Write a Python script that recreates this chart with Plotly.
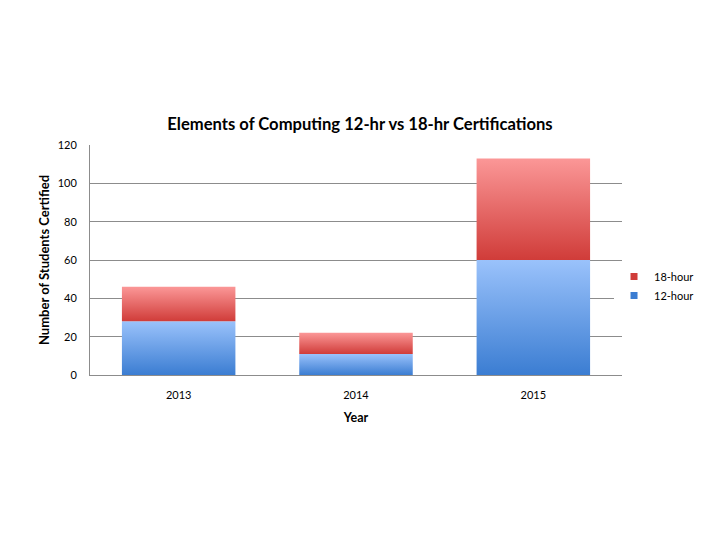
import plotly.graph_objects as go

years = ["2013", "2014", "2015"]
hours12 = [28, 11, 60]
hours18 = [18, 11, 53]

series = [
    ("12-hour", hours12, "#3b7dd2", "#9ac2fb"),
    ("18-hour", hours18, "#d03c39", "#fb9797"),
]

bar_w = 0.64
fig = go.Figure()
base = [0] * len(years)
for name, vals, c0, c1 in series:
    for i, v in enumerate(vals):
        b = base[i]
        t = b + v
        xs = [i - bar_w / 2, i + bar_w / 2, i + bar_w / 2, i - bar_w / 2, i - bar_w / 2]
        ys = [b, b, t, t, b]
        fig.add_trace(go.Scatter(
            x=xs, y=ys, mode="none", fill="toself",
            fillcolor=c0,
            fillgradient=dict(type="vertical", start=b, stop=t,
                              colorscale=[[0, c0], [1, c1]]),
            name=name, legendgroup=name, showlegend=False,
            hoverinfo="skip",
        ))
        base[i] = t

# legend entries
for name, vals, c0, c1 in reversed(series):
    fig.add_trace(go.Scatter(
        x=[None], y=[None], mode="markers",
        marker=dict(symbol="square", size=7, color=c0),
        name=name, legendgroup=name, showlegend=True,
    ))

# the page body adds an 8px offset; margins compensate for it
fig.update_layout(
    width=720, height=540,
    margin=dict(l=82, r=106, t=137, b=173),
    paper_bgcolor="white", plot_bgcolor="white",
    font=dict(family="Lato, Open Sans, sans-serif", size=11, color="#000"),
    title=dict(text="<b>Elements of Computing 12-hr vs 18-hr Certifications</b>",
               x=(360 - 8) / 720, xanchor="center", y=1 - 116 / 540, yanchor="middle",
               font=dict(size=16.6, color="#000")),
    legend=dict(x=0.985, xanchor="left", y=0.387, yanchor="middle",
                font=dict(size=11), itemwidth=30, tracegroupgap=9,
                traceorder="normal"),
    showlegend=True,
)
fig.update_xaxes(
    range=[-0.5, 2.5], tickvals=[0, 1, 2], ticktext=years, automargin=False,
    showgrid=False, zeroline=False, showline=True, linecolor="#8c8c8c", linewidth=1,
    ticks="", ticklabelstandoff=10,
    title=dict(text="<b>Year</b>", font=dict(size=12.5), standoff=13),
)
fig.update_yaxes(
    range=[0, 120], dtick=20, showgrid=True, gridcolor="#8c8c8c", gridwidth=1,
    zeroline=False, showline=True, linecolor="#8c8c8c", linewidth=1, automargin=False,
    ticks="", ticklabelstandoff=10,
    title=dict(text="<b>Number of Students Certified</b>", font=dict(size=13), standoff=5),
)
fig.write_html("out.html")
